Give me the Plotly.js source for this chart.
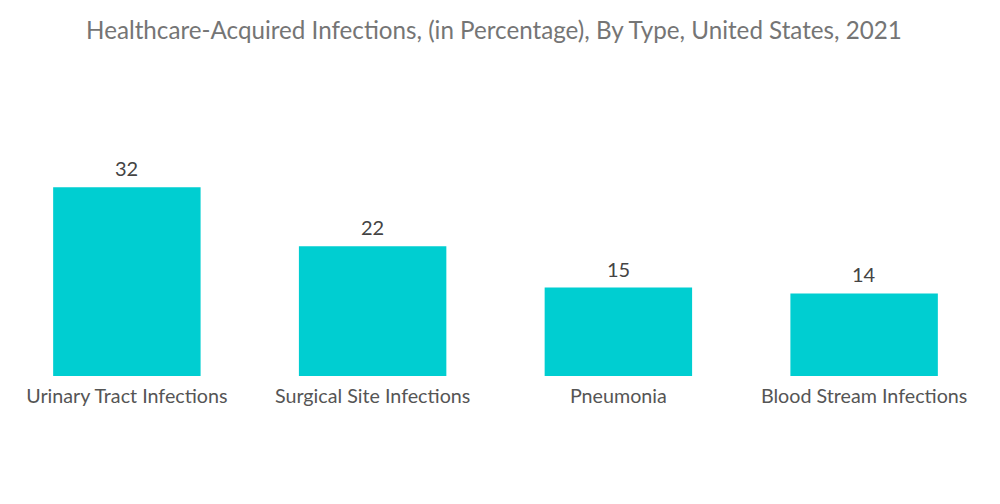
<!DOCTYPE html>
<html>
<head>
<meta charset="utf-8">
<script src="https://cdn.plot.ly/plotly-3.0.1.min.js"></script>
<style>html,body{margin:0;padding:0;background:#fff;}#chart{width:1000px;height:504px;}</style>
</head>
<body>
<div id="chart"></div>
<script>
const categories = ["Urinary Tract Infections", "Surgical Site Infections", "Pneumonia", "Blood Stream Infections"];
const values = [32, 22, 15, 14];
const valueLabels = ["32", "22", "15", "14"];

const trace = {
  type: "bar",
  x: categories,
  y: values,
  marker: {color: "#00CED1"},
  hoverinfo: "skip"
};

const annotations = categories.map((c, i) => ({
  x: c, y: values[i], xref: "x", yref: "y",
  text: valueLabels[i], showarrow: false,
  yanchor: "bottom", yshift: 5,
  font: {family: "Lato, sans-serif", size: 20, color: "#444444"}
}));

const layout = {
  width: 1000,
  height: 504,
  margin: {l: 4, r: 13, t: 100, b: 128},
  paper_bgcolor: "#ffffff",
  plot_bgcolor: "#ffffff",
  bargap: 0.4,
  showlegend: false,
  annotations: annotations,
  title: {
    text: "Healthcare-Acquired Infections, (in Percentage), By Type, United States, 2021",
    font: {family: "Lato, sans-serif", size: 24.2, color: "#757575"},
    x: 0.494, xanchor: "center", y: 0.94, yanchor: "middle"
  },
  xaxis: {
    type: "category",
    showgrid: false, zeroline: false, showline: false,
    ticks: "", ticklen: 0, ticklabelstandoff: 6,
    tickfont: {family: "Lato, sans-serif", size: 19.7, color: "#555555"}
  },
  yaxis: {
    range: [0, 46.8],
    visible: false,
    showgrid: false, zeroline: false
  }
};

Plotly.newPlot("chart", [trace], layout, {displayModeBar: false, staticPlot: true});
</script>
</body>
</html>
